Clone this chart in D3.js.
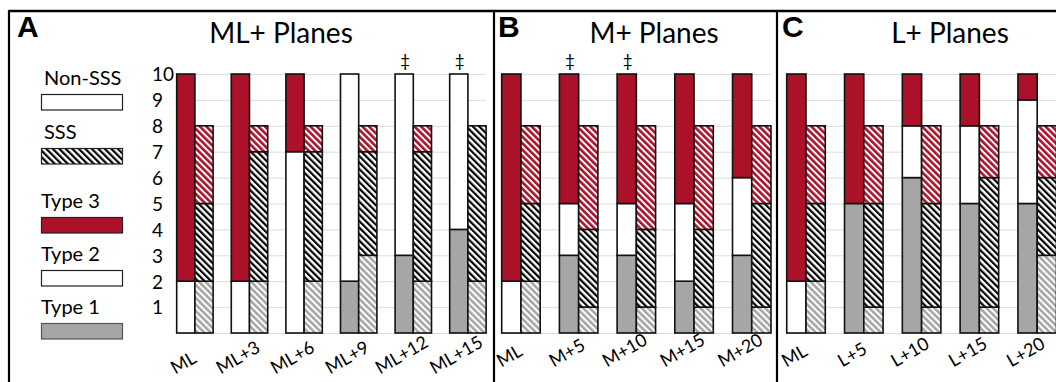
<!DOCTYPE html>
<html>
<head>
<meta charset="utf-8">
<script src="https://cdn.jsdelivr.net/npm/d3@7"></script>
<style>
  body { margin: 0; background: #fff; }
  text { font-family: Lato, "Open Sans", sans-serif; fill: #000; }
</style>
</head>
<body>
<svg id="chart" width="1056" height="382"></svg>
<script>
// ---- data (counts per plane, bottom to top: Type 1, Type 2, Type 3) ----
const catsA = ["ML", "ML+3", "ML+6", "ML+9", "ML+12", "ML+15"];
const solidT1A = [0, 0, 0, 2, 3, 4];
const solidT2A = [2, 2, 7, 8, 7, 6];
const solidT3A = [8, 8, 3, 0, 0, 0];
const sssT1A = [2, 2, 2, 3, 2, 2];
const sssT2A = [3, 5, 5, 4, 5, 6];
const sssT3A = [3, 1, 1, 1, 1, 0];
const daggerA = ["ML+12", "ML+15"];

const catsB = ["ML", "M+5", "M+10", "M+15", "M+20"];
const solidT1B = [0, 3, 3, 2, 3];
const solidT2B = [2, 2, 2, 3, 3];
const solidT3B = [8, 5, 5, 5, 4];
const sssT1B = [2, 1, 1, 1, 1];
const sssT2B = [3, 3, 3, 3, 4];
const sssT3B = [3, 4, 4, 4, 3];
const daggerB = ["M+5", "M+10"];

const catsC = ["ML", "L+5", "L+10", "L+15", "L+20"];
const solidT1C = [0, 5, 6, 5, 5];
const solidT2C = [2, 0, 2, 3, 4];
const solidT3C = [8, 5, 2, 2, 1];
const sssT1C = [2, 1, 1, 1, 3];
const sssT2C = [3, 4, 4, 5, 3];
const sssT3C = [3, 3, 3, 2, 2];
const daggerC = [];

const yTicks = [1, 2, 3, 4, 5, 6, 7, 8, 9, 10];
const legendLabels = ["Non-SSS", "SSS", "Type 3", "Type 2", "Type 1"];

const red = "#ab1229";
const gray = "#a6a6a6";

const svg = d3.select("#chart");

// hatch patterns (stripes running top-left to bottom-right)
const defs = svg.append("defs");
function hatch(id, bg, fg, w) {
  const p = defs.append("pattern")
    .attr("id", id)
    .attr("patternUnits", "userSpaceOnUse")
    .attr("width", 4.6).attr("height", 4.6)
    .attr("patternTransform", "rotate(-45)");
  p.append("rect").attr("width", 4.6).attr("height", 4.6).attr("fill", bg);
  p.append("rect").attr("width", w).attr("height", 4.6).attr("fill", fg);
}
hatch("hBlack", "#fff", "#000", 2.2);
hatch("hRed", "#fff", red, 2.6);
hatch("hGray", "#fff", gray, 2.6);

const solidFills = [gray, "#fff", red];
const sssFills = ["url(#hGray)", "url(#hBlack)", "url(#hRed)"];

const y = d3.scaleLinear().domain([0, 10]).range([333, 74]);

const panels = [
  { letter: "A", letterX: 17, title: "ML+ Planes", titleX: 281, cats: catsA, range: [167.6, 495.2], labBottom: 378,
    solid: [solidT1A, solidT2A, solidT3A], sss: [sssT1A, sssT2A, sssT3A], dagger: daggerA },
  { letter: "B", letterX: 498, title: "M+ Planes", titleX: 654, cats: catsB, range: [492.1, 780.6], labBottom: 371,
    solid: [solidT1B, solidT2B, solidT3B], sss: [sssT1B, sssT2B, sssT3B], dagger: daggerB },
  { letter: "C", letterX: 782, title: "L+ Planes", titleX: 950, cats: catsC, range: [777.1, 1066.1], labBottom: 371,
    solid: [solidT1C, solidT2C, solidT3C], sss: [sssT1C, sssT2C, sssT3C], dagger: daggerC }
];

panels.forEach(function(pn) {
  const x = d3.scaleBand().domain(pn.cats).range(pn.range)
    .paddingInner(0.333).paddingOuter(0.1665);
  const sub = d3.scaleBand().domain(["solid", "sss"]).range([0, x.bandwidth()]);
  const g = svg.append("g");

  // gridlines
  const gx0 = x(pn.cats[0]), gx1 = x(pn.cats[pn.cats.length - 1]) + x.bandwidth();
  g.selectAll(".grid").data([0].concat(yTicks)).enter().append("line")
    .attr("x1", gx0).attr("x2", gx1)
    .attr("y1", d => y(d) + 0.5).attr("y2", d => y(d) + 0.5)
    .attr("stroke", "#dcdcdc").attr("stroke-width", 1);

  // stacked bars
  const keys = [0, 1, 2];
  ["solid", "sss"].forEach(function(kind) {
    const series = pn[kind];
    const rows = pn.cats.map((c, i) => ({ cat: c, 0: series[0][i], 1: series[1][i], 2: series[2][i] }));
    const stacked = d3.stack().keys(keys)(rows);
    const fills = kind === "solid" ? solidFills : sssFills;
    stacked.forEach(function(layer, li) {
      g.selectAll(".seg" + kind + li).data(layer.filter(d => d[1] > d[0])).enter().append("rect")
        .attr("x", d => x(d.data.cat) + sub(kind))
        .attr("width", sub.bandwidth())
        .attr("y", d => y(d[1]))
        .attr("height", d => y(d[0]) - y(d[1]))
        .attr("fill", fills[li])
        .attr("stroke", "#111").attr("stroke-width", 1.6);
    });
  });

  // daggers
  g.selectAll(".dag").data(pn.dagger).enter().append("text")
    .attr("x", d => x(d) + sub("solid") + sub.bandwidth() / 2 + 1)
    .attr("y", 67)
    .attr("text-anchor", "middle")
    .attr("font-size", 17)
    .text("\u2021");

  // x labels: rotated, centred under the pair with bottoms aligned
  g.selectAll(".xl").data(pn.cats).enter().append("g")
    .each(function(d) {
      const lg = d3.select(this);
      lg.append("text").attr("transform", "rotate(-30)")
        .attr("font-size", 18).text(d);
      const bb = this.getBBox();
      const cx = x(d) + x.bandwidth() / 2 - 12;
      lg.attr("transform", "translate(" + (cx - (bb.x + bb.width / 2)) + "," + (pn.labBottom - (bb.y + bb.height)) + ")");
    });

  // title + panel letter
  svg.append("text").attr("x", pn.titleX).attr("y", 43)
    .attr("text-anchor", "middle").attr("font-size", 28).text(pn.title);
  svg.append("text").attr("x", pn.letterX).attr("y", 37)
    .attr("font-weight", 700).attr("font-size", 30)
    .style("font-family", "'Liberation Sans', Arial, sans-serif").text(pn.letter);

  if (pn.letter === "A") {
    const yAxis = d3.axisLeft(y).tickValues(yTicks).tickSize(0).tickFormat(d3.format("d"));
    const ag = svg.append("g").attr("transform", "translate(152,0)").call(yAxis);
    ag.select(".domain").remove();
    ag.selectAll("text").attr("x", 0).attr("dy", "0.36em")
      .attr("text-anchor", "start").attr("font-size", 19)
      .style("font-family", "Lato, sans-serif").attr("fill", "#000");
  }
});

// legend
const legendY = [85, 139, 208, 261, 314];
const legendFill = ["#fff", "url(#hBlack)", red, "#fff", gray];
const lg = svg.append("g");
legendLabels.forEach(function(lab, i) {
  lg.append("text").attr("x", i < 2 ? 44 : 41).attr("y", legendY[i]).attr("font-size", 20).text(lab);
  lg.append("rect").attr("x", 41.5).attr("y", legendY[i] + 9.5).attr("width", 81).attr("height", 15.5)
    .attr("fill", legendFill[i])
    .attr("stroke", i === 4 ? "#555" : "#222").attr("stroke-width", 1.2);
});

// panel frame and dividers
svg.append("line").attr("x1", 9).attr("x2", 1056).attr("y1", 11).attr("y2", 11).attr("stroke", "#000").attr("stroke-width", 2.5);
[9, 494, 777].forEach(function(xx) {
  svg.append("line").attr("x1", xx).attr("x2", xx).attr("y1", 10).attr("y2", 382).attr("stroke", "#000").attr("stroke-width", 2.2);
});
</script>
</body>
</html>
